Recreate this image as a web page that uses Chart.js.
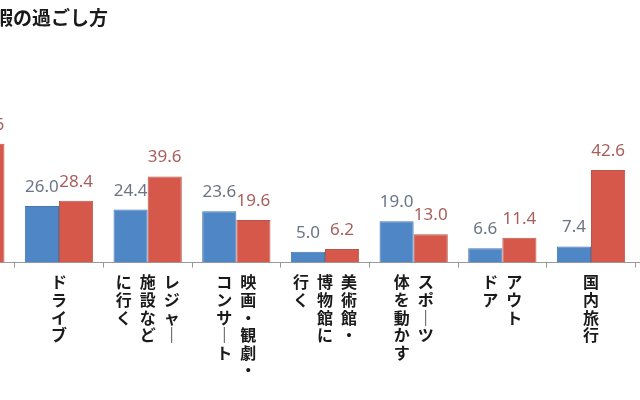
<!DOCTYPE html>
<html>
<head>
<meta charset="utf-8">
<script src="https://cdn.jsdelivr.net/npm/chart.js@4"></script>
<style>
  html, body { margin: 0; padding: 0; width: 640px; height: 400px; overflow: hidden; background: #fff; }
  #wrap { position: relative; width: 640px; height: 400px; overflow: hidden; }
  /* the chart is wider than the picture: it is a crop of a larger chart */
  #chart { position: absolute; left: -74px; top: 0; }
</style>
</head>
<body>
<div id="wrap"><canvas id="chart" width="798" height="400"></canvas></div>
<script>
// titulo (cortado a la izquierda en la imagen original)
const chartTitle = '暇の過ごし方';

// categorias: cada una es una lista de columnas de texto vertical (de derecha a izquierda)
const categoryColumns = [
    [],                                  // categoria cortada a la izquierda
    ['ドライブ'],
    ['レジャー', '施設など', 'に行く'],
    ['映画・観劇・', 'コンサート'],
    ['美術館・', '博物館に', '行く'],
    ['スポーツ', '体を動かす'],
    ['アウト', 'ドア'],
    ['国内旅行'],
    []                                   // categoria cortada a la derecha
];

// valores (%)
const blueValues = [null, 26.0, 24.4, 23.6, 5.0, 19.0, 6.6, 7.4, null];
const redValues  = [54.6, 28.4, 39.6, 19.6, 6.2, 13.0, 11.4, 42.6, null];

const blueColor = '#4f86c6';
const redColor = '#d6584a';
const blueTextColor = '#6b7585';
const redTextColor = '#a85e5a';

// convierte columnas verticales en lineas para las etiquetas del eje
function verticalLines(cols) {
    if (cols.length === 0) return '';
    let n = Math.max(...cols.map(c => Array.from(c).length));
    let lines = [];
    for (let i = 0; i < n; i++) {
        let cells = cols.slice().reverse().map(c => {
            let ch = Array.from(c)[i];
            if (!ch) return '\u3000';
            return ch === 'ー' ? '｜' : ch;   // la raya larga va vertical
        });
        lines.push(cells.join('\u2002'));
    }
    return lines;
}

const labels = categoryColumns.map(verticalLines);

// dibuja los valores encima de cada barra
const valueLabels = {
    id: 'valueLabels',
    afterDatasetsDraw(chart) {
        let ctx = chart.ctx;
        ctx.save();
        ctx.font = '17px "Noto Sans"';
        ctx.textAlign = 'center';
        ctx.textBaseline = 'alphabetic';
        chart.data.datasets.forEach((ds, di) => {
            let meta = chart.getDatasetMeta(di);
            ctx.fillStyle = di === 0 ? blueTextColor : redTextColor;
            meta.data.forEach((bar, i) => {
                let v = ds.data[i];
                if (v === null || v === undefined) return;
                ctx.fillText(v.toFixed(1), bar.x, bar.y - 14);
            });
        });
        ctx.restore();
    }
};

// titulo arriba a la izquierda
const titleText = {
    id: 'titleText',
    afterDraw(chart) {
        let ctx = chart.ctx;
        ctx.save();
        ctx.font = 'bold 19px "Noto Sans CJK JP"';
        ctx.fillStyle = '#1a1a1a';
        ctx.textAlign = 'left';
        ctx.textBaseline = 'middle';
        ctx.fillText(chartTitle, 68, 18);
        ctx.restore();
    }
};

let ctx = document.getElementById('chart').getContext('2d');
new Chart(ctx, {
    type: 'bar',
    data: {
        labels: labels,
        datasets: [
            {
                label: 'A',
                data: blueValues,
                backgroundColor: blueColor,
                borderColor: '#4676ad',
                borderWidth: 1,
                categoryPercentage: 0.77,
                barPercentage: 1
            },
            {
                label: 'B',
                data: redValues,
                backgroundColor: redColor,
                borderColor: '#b9564c',
                borderWidth: 1,
                categoryPercentage: 0.77,
                barPercentage: 1
            }
        ]
    },
    options: {
        responsive: false,
        animation: false,
        layout: { padding: { top: 45, left: 0, right: 0, bottom: 0 } },
        plugins: {
            legend: { display: false },
            tooltip: { enabled: false }
        },
        scales: {
            x: {
                offset: true,
                grid: { offset: true, drawOnChartArea: false, tickLength: 5, color: '#9a9a9a' },
                border: { color: '#9a9a9a', width: 1 },
                ticks: {
                    autoSkip: false,
                    maxRotation: 0,
                    minRotation: 0,
                    padding: 6,
                    color: '#1a1a1a',
                    font: { family: '"Noto Sans CJK JP"', size: 16, weight: 'bold', lineHeight: 1.1 }
                },
                afterFit: scale => { scale.height = 137.4; }
            },
            y: { display: false, min: 0, max: 100 }
        }
    },
    plugins: [valueLabels, titleText]
});
</script>
</body>
</html>
